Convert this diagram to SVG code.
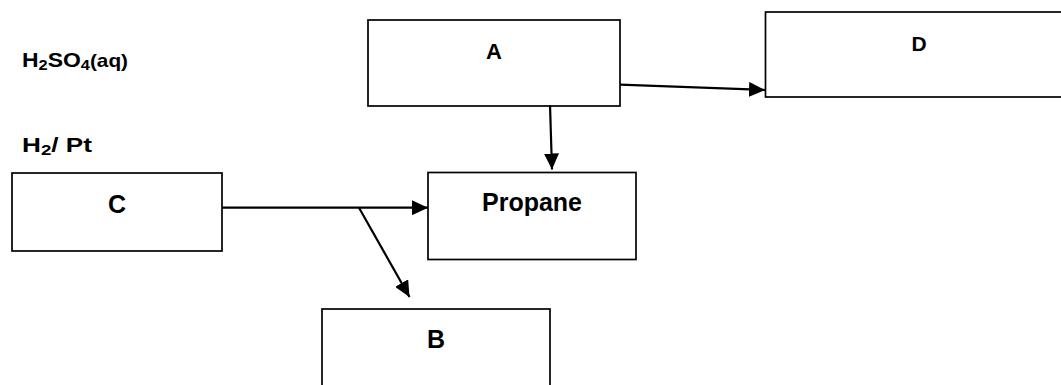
<svg xmlns="http://www.w3.org/2000/svg" width="1061" height="385" viewBox="0 0 1061 385">
<style>
.box{fill:#fff;stroke:#000;stroke-width:1.7}
.lbl{font-family:"Liberation Sans",Arial,sans-serif;font-weight:bold;fill:#000}
.con{stroke:#000;stroke-width:2.2;fill:none}
</style>
<defs>
<marker id="ah" markerUnits="userSpaceOnUse" markerWidth="16" markerHeight="15" refX="16" refY="7.5" orient="auto">
<path d="M0,0 L16,7.5 L0,15 z" fill="#000"/>
</marker>
</defs>
<rect width="1061" height="385" fill="#fff"/>
<g id="label-h2so4">
<text class="lbl" x="22" y="67" font-size="21" textLength="106" lengthAdjust="spacingAndGlyphs">H<tspan font-size="15" dy="3">2</tspan><tspan dy="-3">SO</tspan><tspan font-size="15" dy="3">4</tspan><tspan dy="-3" font-size="19">(aq)</tspan></text>
</g>
<g id="label-h2pt">
<text class="lbl" x="22" y="152" font-size="21" textLength="70" lengthAdjust="spacingAndGlyphs">H<tspan font-size="15" dy="3">2</tspan><tspan dy="-3">/ Pt</tspan></text>
</g>
<g id="node-A">
<rect class="box" x="368" y="20" width="252" height="86"/>
<text class="lbl" x="494" y="59" font-size="22" text-anchor="middle">A</text>
</g>
<g id="node-D">
<rect class="box" x="765.5" y="12" width="310" height="85"/>
<text class="lbl" x="919" y="51" font-size="21" text-anchor="middle">D</text>
</g>
<g id="node-C">
<rect class="box" x="12" y="173" width="210" height="78"/>
<text class="lbl" x="117" y="212.5" font-size="25" text-anchor="middle">C</text>
</g>
<g id="node-Propane">
<rect class="box" x="428" y="172.5" width="208" height="87"/>
<text class="lbl" x="532" y="211" font-size="25" text-anchor="middle" textLength="100" lengthAdjust="spacingAndGlyphs">Propane</text>
</g>
<g id="node-B">
<rect class="box" x="322" y="309" width="228" height="100"/>
<text class="lbl" x="436" y="347.5" font-size="25" text-anchor="middle">B</text>
</g>
<g id="connectors">
<line class="con" x1="620" y1="84.7" x2="765" y2="90" marker-end="url(#ah)"/>
<line class="con" x1="550" y1="105" x2="552" y2="169.5" marker-end="url(#ah)"/>
<line class="con" x1="222" y1="207.7" x2="428" y2="207.7" marker-end="url(#ah)"/>
<line class="con" x1="359" y1="207.7" x2="409.5" y2="297" marker-end="url(#ah)"/>
</g>
</svg>
